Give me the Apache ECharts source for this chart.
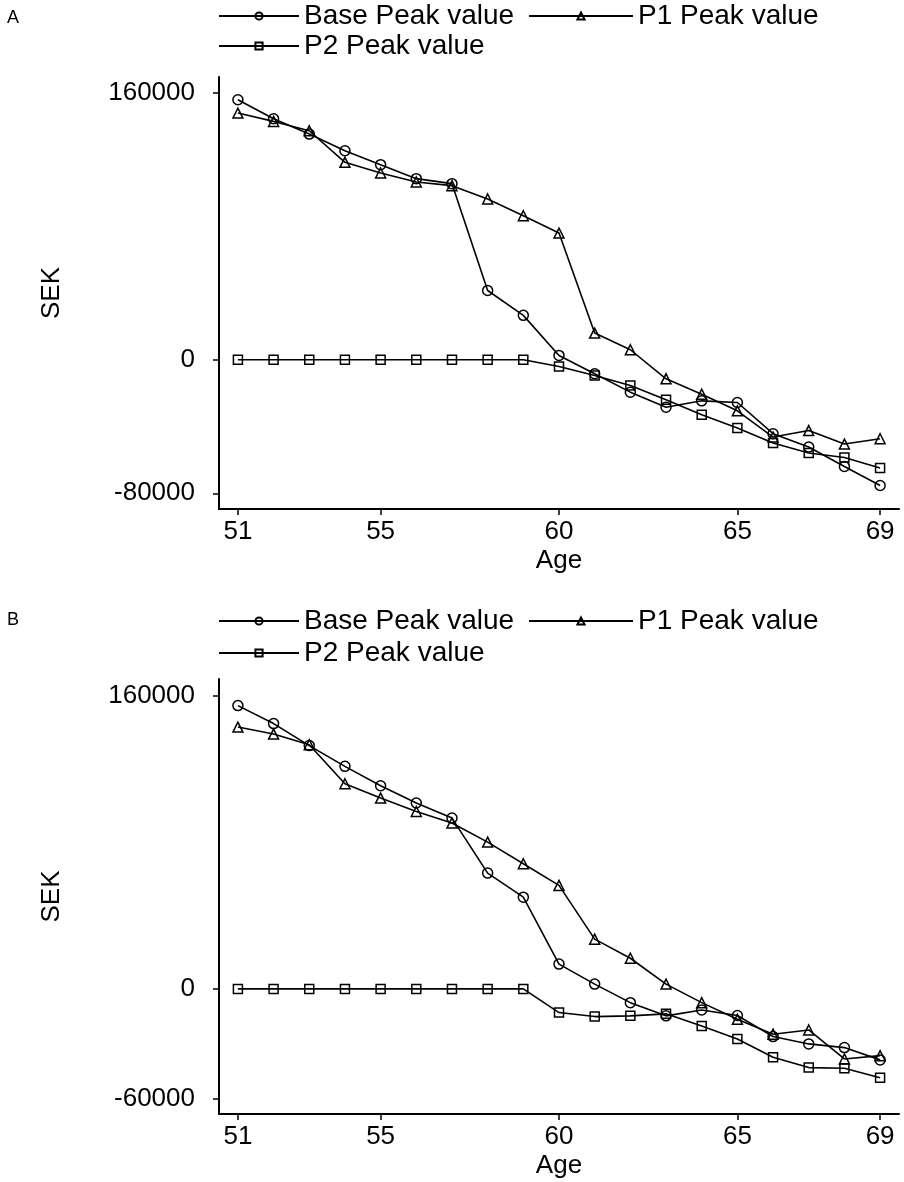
<!DOCTYPE html>
<html lang="en">
<head>
	<meta charset="UTF-8">
	<title>Peak value by age</title>
	<script type="text/javascript" src="https://cdn.jsdelivr.net/npm/echarts@6.0.0/dist/echarts.min.js"></script>
	<style>
		html, body { margin: 0; padding: 0; background: #fff; }
		#main { width: 904px; height: 1182px; }
	</style>
</head>
<body>
	<div id="main"></div>
	<script type="text/javascript">
		// ages on the x axis
		var ages = [51,52,53,54,55,56,57,58,59,60,61,62,63,64,65,66,67,68,69];
		var xTicks = [51, 55, 60, 65, 69];

		// panel A
		var baseA = [155800,144400,135200,125200,116900,108500,105500,41500,26600,2600,-8400,-19400,-28400,-24600,-25600,-44300,-52300,-63900,-75300];
		var p1A   = [147800,142800,137200,118300,111900,106500,104300,96300,86300,75900,16000,6000,-11400,-20600,-30600,-46300,-42400,-50500,-47300];
		var p2A   = [0,0,0,0,0,0,0,0,0,-4000,-9400,-15400,-24000,-33000,-40900,-49900,-55900,-58500,-64900];
		var yTicksA = [-80000, 0, 160000];

		// panel B
		var baseB = [154400,144600,132600,121300,110700,101300,93100,63100,50000,13500,2600,-7500,-14700,-11500,-14500,-26000,-30000,-32000,-38700];
		var p1B   = [142700,138900,133100,111800,104000,96700,90400,80000,68200,56400,27100,16700,2600,-7500,-16600,-24700,-22400,-38200,-36400];
		var p2B   = [0,0,0,0,0,0,0,0,0,-12900,-15100,-14700,-13600,-20200,-27300,-37300,-42900,-43300,-48400];
		var yTicksB = [-60000, 0, 160000];

		var names = ['Base Peak value', 'P1 Peak value', 'P2 Peak value'];
		var symbols = ['circle', 'triangle', 'rect'];
		var symSizes = [10, 10, 9];
		var FONT = 'Liberation Sans, Arial, sans-serif';

		function pairs(vals) {
			var out = [];
			for (var i = 0; i < ages.length; i++) out.push([ages[i], vals[i]]);
			return out;
		}

		function xAxisFor(idx) {
			return {
				type: 'value', gridIndex: idx, min: 50.47, max: 69.53,
				name: 'Age', nameLocation: 'middle', nameGap: 39,
				nameTextStyle: { color: '#000', fontSize: 26, fontFamily: FONT },
				axisLine: { show: true, onZero: false, lineStyle: { color: '#000', width: 2 } },
				axisTick: { show: true, length: 6, customValues: xTicks, lineStyle: { color: '#000', width: 1.5 } },
				axisLabel: { customValues: xTicks, margin: 10, color: '#000', fontSize: 26, fontFamily: FONT },
				splitLine: { show: false }
			};
		}

		function yAxisFor(idx, min, max, ticks) {
			return {
				type: 'value', gridIndex: idx, min: min, max: max,
				name: 'SEK', nameLocation: 'middle', nameGap: 154, nameRotate: 90,
				nameTextStyle: { color: '#000', fontSize: 26, fontFamily: FONT },
				axisLine: { show: true, onZero: false, lineStyle: { color: '#000', width: 2 } },
				axisTick: { show: true, length: 6, customValues: ticks, lineStyle: { color: '#000', width: 1.5 } },
				axisLabel: {
					customValues: ticks, margin: 24, color: '#000', fontSize: 26, fontFamily: FONT,
					formatter: function (v) { return String(v); }
				},
				splitLine: { show: false }
			};
		}

		function seriesFor(idx, sets) {
			var out = [];
			for (var k = 0; k < 3; k++) {
				out.push({
					name: names[k], type: 'line', xAxisIndex: idx, yAxisIndex: idx,
					data: pairs(sets[k]), symbol: symbols[k], symbolSize: symSizes[k],
					showAllSymbol: true, animation: false,
					lineStyle: { color: '#000', width: 1.6 },
					itemStyle: { color: 'rgba(0,0,0,0)', borderColor: '#000', borderWidth: 1.5 }
				});
			}
			return out;
		}

		function legendItem(name, left, top, w) {
			return {
				data: [name], left: left, top: top, padding: 0,
				itemWidth: w, itemHeight: 9, itemGap: 0,
				selectedMode: false,
				textStyle: { color: '#000', fontSize: 28, fontFamily: FONT }
			};
		}

		var myChart = echarts.init(document.getElementById('main'));
		var option = {
			backgroundColor: '#fff',
			animation: false,
			title: [
				{ text: 'A', left: 7, top: 9, padding: 0, textStyle: { fontSize: 18, fontWeight: 'normal', color: '#000', fontFamily: FONT } },
				{ text: 'B', left: 7, top: 611, padding: 0, textStyle: { fontSize: 18, fontWeight: 'normal', color: '#000', fontFamily: FONT } }
			],
			legend: [
				legendItem(names[0], 218, 2, 80),
				legendItem(names[1], 528, 2, 104),
				legendItem(names[2], 218, 32, 80),
				legendItem(names[0], 218, 607, 80),
				legendItem(names[1], 528, 607, 104),
				legendItem(names[2], 218, 639, 80)
			],
			grid: [
				{ left: 219, right: 5, top: 77, bottom: 673 },
				{ left: 219, right: 5, top: 679, bottom: 68 }
			],
			xAxis: [xAxisFor(0), xAxisFor(1)],
			yAxis: [
				yAxisFor(0, -89400, 169400, yTicksA),
				yAxisFor(1, -68200, 168900, yTicksB)
			],
			series: seriesFor(0, [baseA, p1A, p2A]).concat(seriesFor(1, [baseB, p1B, p2B]))
		};
		myChart.setOption(option);
	</script>
</body>
</html>
